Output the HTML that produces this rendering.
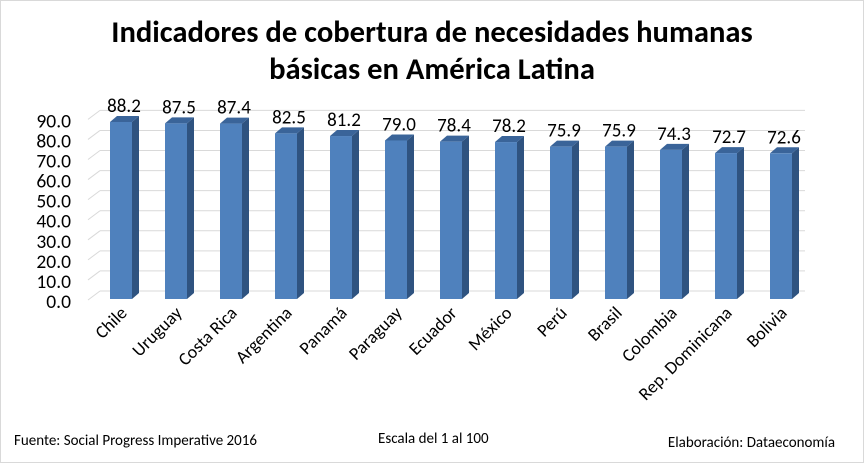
<!DOCTYPE html><html><head><style>body{margin:0;background:#fff}svg{display:block}</style></head><body>
<svg width="864" height="463" xmlns="http://www.w3.org/2000/svg" font-family="Calibri, 'Liberation Sans', sans-serif">
<rect x="0.5" y="0.5" width="863" height="462" fill="#fff" stroke="#d9d9d9"/>
<text x="432" y="42" text-anchor="middle" font-size="30.6" font-weight="bold">Indicadores de cobertura de necesidades humanas</text>
<text x="432" y="79" text-anchor="middle" font-size="30.6" font-weight="bold">básicas en América Latina</text>
<g stroke="#d9d9d9" stroke-width="1" id="grid"></g>
<g id="ylab" font-size="19.5" text-anchor="end"></g>
<g id="bars"></g>
<text x="14" y="445" font-size="15">Fuente: Social Progress Imperative 2016</text>
<text x="378" y="443" font-size="15">Escala del 1 al 100</text>
<text x="835" y="447" font-size="15" text-anchor="end">Elaboración: Dataeconomía</text>
<script>
var ns="http://www.w3.org/2000/svg";
function el(t,a,p,txt){var e=document.createElementNS(ns,t);for(var k in a)e.setAttribute(k,a[k]);if(txt)e.textContent=txt;document.getElementById(p).appendChild(e);}
var base=299,k=2.007;
for(var i=0;i<=9;i++){var y=base-i*10*k;
el("line",{x1:88,y1:y+1,x2:100,y2:y-8},"grid");
el("line",{x1:100,y1:y-8,x2:805,y2:y-8},"grid");
el("text",{x:71,y:y+9},"ylab",(i*10).toFixed(1));}
var d=[["Chile",88.2],["Uruguay",87.5],["Costa Rica",87.4],["Argentina",82.5],["Panamá",81.2],["Paraguay",79.0],["Ecuador",78.4],["México",78.2],["Perú",75.9],["Brasil",75.9],["Colombia",74.3],["Rep. Dominicana",72.7],["Bolivia",72.6]];
d.forEach(function(r,i){var x=110+i*55,w=22,dx=7,dy=6,t=base-r[1]*k;
el("polygon",{points:(x+w)+","+t+" "+(x+w+dx)+","+(t-dy)+" "+(x+w+dx)+","+(base-dy)+" "+(x+w)+","+base,fill:"#2f5380"},"bars");
el("polygon",{points:x+","+t+" "+(x+dx)+","+(t-dy)+" "+(x+w+dx)+","+(t-dy)+" "+(x+w)+","+t,fill:"#3a6499"},"bars");
el("rect",{x:x,y:t,width:w,height:base-t,fill:"#4f81bd"},"bars");
el("text",{x:x+14,y:t-10,"text-anchor":"middle","font-size":19},"bars",r[1].toFixed(1));
el("text",{x:0,y:0,"text-anchor":"end","font-size":18,transform:"translate("+(x+18)+",314) rotate(-45)"},"bars",r[0]);
});
</script>
</svg></body></html>
